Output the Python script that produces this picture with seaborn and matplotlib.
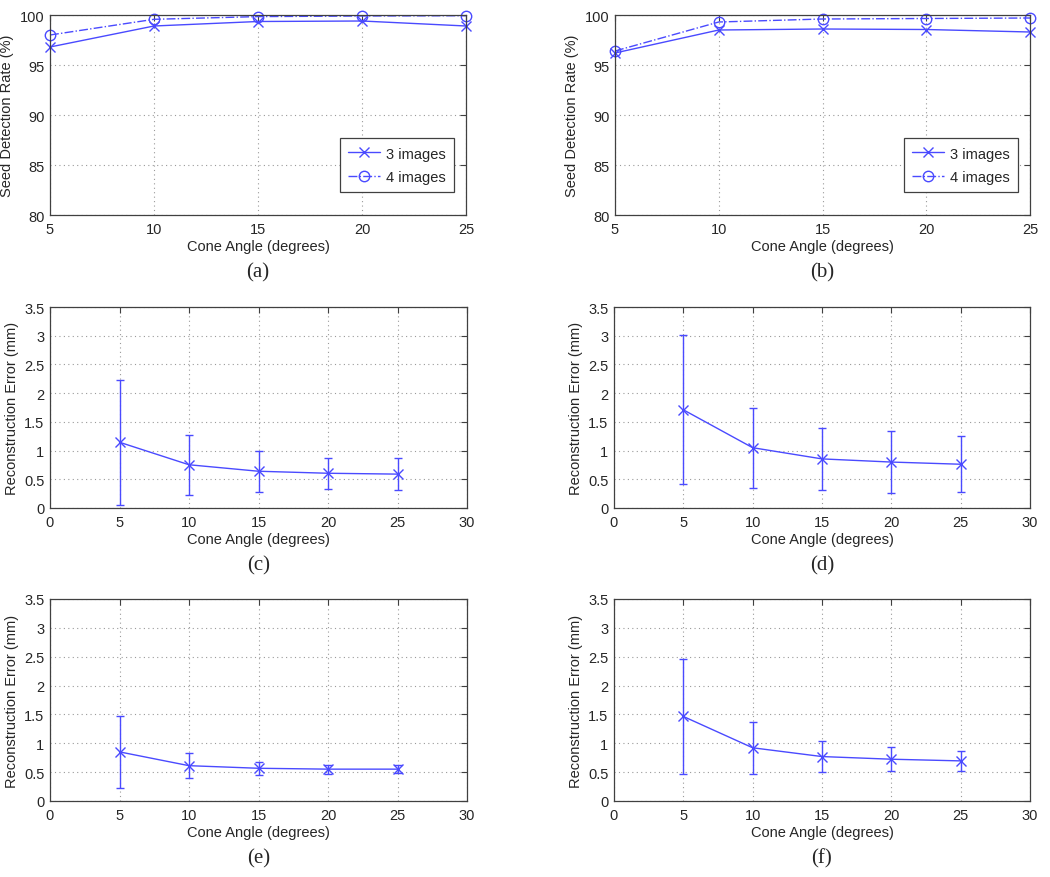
import matplotlib
matplotlib.use("Agg")
import matplotlib.pyplot as plt
import seaborn as sns
import pandas as pd
from matplotlib.ticker import FormatStrFormatter

# cone angles (degrees)
angles = [5, 10, 15, 20, 25]

# seed detection rate (%)
rate_a_3 = [96.8, 98.9, 99.35, 99.4, 98.9]
rate_a_4 = [98.0, 99.57, 99.84, 99.9, 99.93]
rate_b_3 = [96.2, 98.5, 98.6, 98.55, 98.3]
rate_b_4 = [96.4, 99.3, 99.6, 99.65, 99.7]

# reconstruction error (mm): mean and std
err_c_mean = [1.145, 0.753, 0.64, 0.605, 0.59]
err_c_std = [1.085, 0.52, 0.355, 0.273, 0.276]
err_d_mean = [1.71, 1.05, 0.855, 0.80, 0.762]
err_d_std = [1.30, 0.695, 0.537, 0.54, 0.49]
err_e_mean = [0.851, 0.612, 0.567, 0.552, 0.552]
err_e_std = [0.62, 0.217, 0.115, 0.078, 0.075]
err_f_mean = [1.465, 0.922, 0.77, 0.724, 0.695]
err_f_std = [1.0, 0.455, 0.263, 0.21, 0.18]

captions = ["(a)", "(b)", "(c)", "(d)", "(e)", "(f)"]

sns.set_style("white")
plt.rcParams["font.family"] = ["Liberation Sans", "DejaVu Sans"]
plt.rcParams["xtick.direction"] = "in"
plt.rcParams["ytick.direction"] = "in"

BLUE = "#4a4aff"
EDGE = "#404040"
W, H = 1050, 878

fig = plt.figure(figsize=(W / 100, H / 100), dpi=100)

# axes boxes in pixels: left, top, right, bottom
boxes = [
    (50, 16, 466, 216), (615, 16, 1030, 216),
    (50, 308, 467, 509), (614, 308, 1030, 509),
    (50, 600, 467, 802), (614, 600, 1030, 802),
]


def make_ax(box):
    l, t, r, b = box
    ax = fig.add_axes([l / W, 1 - b / H, (r - l) / W, (b - t) / H])
    for s in ax.spines.values():
        s.set_color(EDGE)
        s.set_linewidth(0.9)
    ax.tick_params(labelsize=10.5, length=4, color=EDGE, top=True, right=True,
                   pad=4)
    ax.tick_params(axis="x", pad=5)
    ax.grid(True, linestyle=(0, (1, 3)), color="#9a9a9a", linewidth=0.8)
    ax.set_xlabel("Cone Angle (degrees)", fontsize=10.5, labelpad=2.5)
    return ax


def rate_panel(ax, r3, r4):
    df = pd.DataFrame({
        "angle": angles * 2,
        "rate": r3 + r4,
        "series": ["3 images"] * len(angles) + ["4 images"] * len(angles),
    })
    sns.lineplot(data=df[df.series == "3 images"], x="angle", y="rate", ax=ax,
                 color=BLUE, lw=1.0, marker="x", markersize=7.5, mew=1.0,
                 mec=BLUE, label="3 images", clip_on=False)
    sns.lineplot(data=df[df.series == "4 images"], x="angle", y="rate", ax=ax,
                 color=BLUE, lw=1.0, linestyle="-.", marker="o", markersize=7.5,
                 mfc="none", mec=BLUE, mew=1.0, label="4 images", clip_on=False)
    ax.set_xlim(5, 25)
    ax.set_ylim(80, 100)
    ax.set_xticks(angles)
    ax.set_yticks([80, 85, 90, 95, 100])
    ax.set_ylabel("Seed Detection Rate (%)", fontsize=10.5, labelpad=4)
    leg = ax.legend(loc="lower right", bbox_to_anchor=(0.971, 0.115),
                    borderaxespad=0, fontsize=10.5, frameon=True,
                    fancybox=False, framealpha=1, edgecolor=EDGE,
                    handlelength=2.2, handletextpad=0.4, borderpad=0.55,
                    labelspacing=0.65)
    leg.get_frame().set_linewidth(0.9)


def error_panel(ax, mean, std):
    df = pd.DataFrame({"angle": angles, "err": mean})
    ax.errorbar(angles, mean, yerr=std, fmt="none", ecolor=BLUE, elinewidth=1.0,
                capsize=2.8, capthick=1.0)
    sns.lineplot(data=df, x="angle", y="err", ax=ax, color=BLUE, lw=1.0,
                 marker="x", markersize=7.5, mew=1.0, mec=BLUE)
    ax.set_xlim(0, 30)
    ax.set_ylim(0, 3.5)
    ax.set_xticks(range(0, 31, 5))
    ax.set_yticks([0, 0.5, 1, 1.5, 2, 2.5, 3, 3.5])
    ax.yaxis.set_major_formatter(FormatStrFormatter("%g"))
    ax.set_ylabel("Reconstruction Error (mm)", fontsize=10.5, labelpad=4)


axes = [make_ax(b) for b in boxes]
rate_panel(axes[0], rate_a_3, rate_a_4)
rate_panel(axes[1], rate_b_3, rate_b_4)
error_panel(axes[2], err_c_mean, err_c_std)
error_panel(axes[3], err_d_mean, err_d_std)
error_panel(axes[4], err_e_mean, err_e_std)
error_panel(axes[5], err_f_mean, err_f_std)

for box, cap in zip(boxes, captions):
    l, t, r, b = box
    fig.text((l + r) / 2 / W, 1 - (b + 57) / H, cap, ha="center", va="center",
             fontsize=15, family=["Liberation Serif", "DejaVu Serif"])

fig.savefig("out.png", dpi=100)
